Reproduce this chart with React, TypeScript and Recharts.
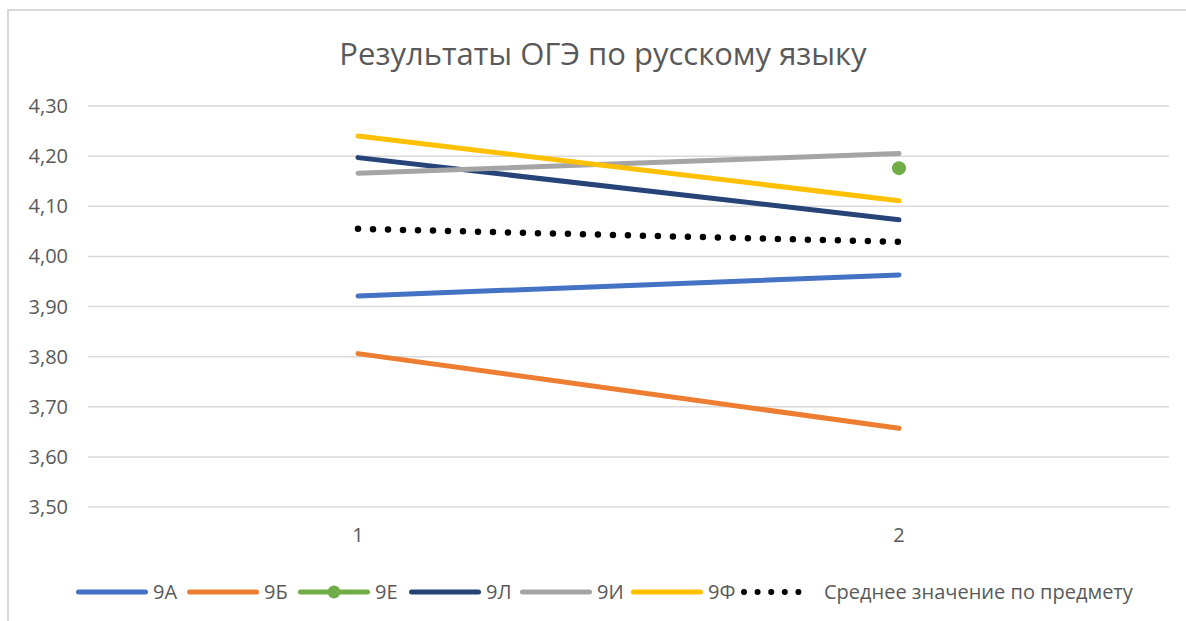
import { LineChart, Line, XAxis, YAxis, CartesianGrid, Legend } from "recharts";

const categories = ["1", "2"];
const s9A = [3.921, 3.963];
const s9B = [3.806, 3.657];
const s9E = [null, 4.176];
const s9L = [4.197, 4.073];
const s9I = [4.166, 4.205];
const s9F = [4.24, 4.111];
const avg = [4.055, 4.029];
const yTicks = [3.5, 3.6, 3.7, 3.8, 3.9, 4.0, 4.1, 4.2, 4.3];

const series = [
  { key: "9А", values: s9A, color: "#4472c4" },
  { key: "9Б", values: s9B, color: "#ed7d31" },
  { key: "9Е", values: s9E, color: "#70ad47", marker: true },
  { key: "9Л", values: s9L, color: "#264478" },
  { key: "9И", values: s9I, color: "#a5a5a5" },
  { key: "9Ф", values: s9F, color: "#ffc000" },
  { key: "Среднее значение по предмету", values: avg, color: "#000000", dotted: true },
];

const data = categories.map((c, i) => {
  const row: Record<string, any> = { name: c };
  series.forEach(s => { row[s.key] = s.values[i]; });
  return row;
});

const font = "'Open Sans', 'Noto Sans', sans-serif";

function LegendContent() {
  return (
    <div style={{ display: "flex", alignItems: "center", fontFamily: font, fontSize: 20, color: "#595959", whiteSpace: "nowrap" }}>
      {series.map(s => (
        <div key={s.key} style={{ display: "flex", alignItems: "center", width: s.dotted ? undefined : 111 }}>
          <svg width={76} height={16}>
            {s.dotted ? (
              <line x1={4} y1={8} x2={72} y2={8} stroke={s.color} strokeWidth={6} strokeLinecap="round" strokeDasharray="0 13.6" />
            ) : (
              <line x1={4.5} y1={8} x2={71.5} y2={8} stroke={s.color} strokeWidth={5} strokeLinecap="round" />
            )}
            {s.marker && <circle cx={38} cy={8} r={6.5} fill={s.color} />}
          </svg>
          <span style={{ marginLeft: s.dotted ? 8 : 3 }}>{s.key}</span>
        </div>
      ))}
    </div>
  );
}

export default function App() {
  return (
    <div style={{ position: "absolute", left: 0, top: 0, width: 1186, height: 621, background: "#fff", overflow: "hidden" }}>
      <div style={{ position: "absolute", left: 7, top: 9, width: 1200, height: 700, borderTop: "2px solid #d9d9d9", borderLeft: "2px solid #d9d9d9" }} />
      <div style={{ position: "absolute", left: 0, top: 32, width: 1206, textAlign: "center", fontFamily: font, fontSize: 31, color: "#595959" }}>
        Результаты ОГЭ по русскому языку
      </div>
      <div style={{ position: "absolute", left: 0, top: 0 }}>
        <LineChart width={1186} height={621} data={data} margin={{ top: 106, right: 17, bottom: 0, left: 0 }}>
          <CartesianGrid vertical={false} stroke="#d9d9d9" strokeWidth={1.5} />
          <XAxis dataKey="name" axisLine={false} tickLine={false} tickSize={0} tickMargin={21} height={114}
            padding={{ left: 270, right: 270 }}
            tick={{ fontSize: 20, fill: "#595959", fontFamily: font }} />
          <YAxis domain={[3.5, 4.3]} ticks={yTicks} width={88} axisLine={false} tickLine={false} tickSize={0} tickMargin={20}
            tickFormatter={(v: number) => v.toFixed(2).replace(".", ",")}
            tick={{ fontSize: 20, fill: "#595959", fontFamily: font }} />
          <Legend verticalAlign="middle" layout="horizontal" content={<LegendContent />}
            wrapperStyle={{ top: 578, left: 74, width: "auto" }} />
          {series.map(s => (
            <Line key={s.key} dataKey={s.key} stroke={s.color} isAnimationActive={false}
              strokeWidth={s.dotted ? 6.5 : 5} strokeLinecap="round"
              strokeDasharray={s.dotted ? "0 15" : undefined}
              dot={s.marker ? { r: 7, fill: s.color, stroke: s.color, strokeWidth: 0 } : false}
              activeDot={false} connectNulls={false} />
          ))}
        </LineChart>
      </div>
    </div>
  );
}
